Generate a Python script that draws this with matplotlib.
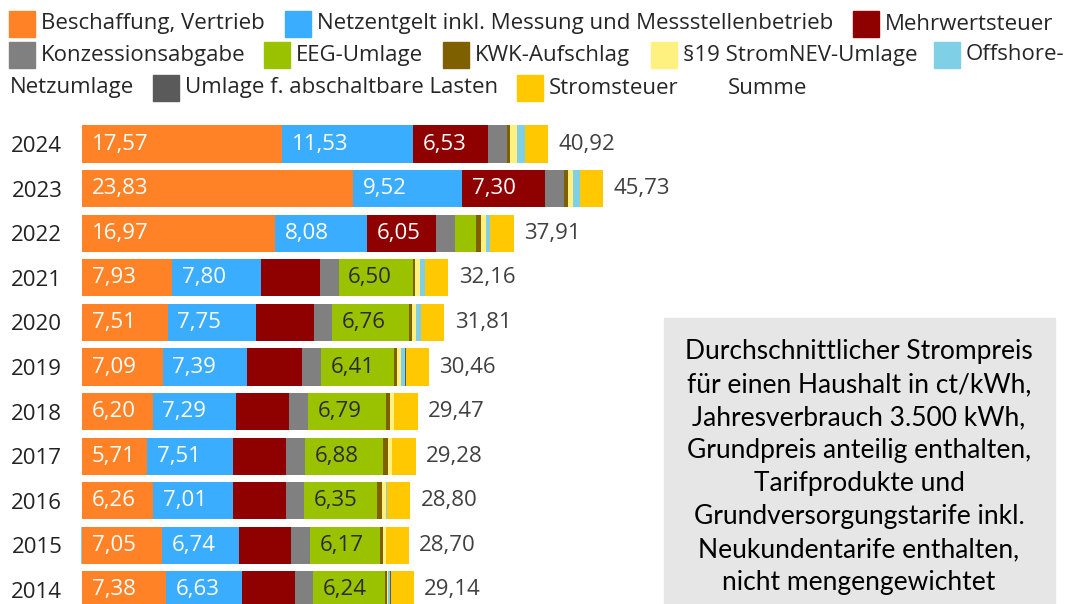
import numpy as np
import matplotlib.pyplot as plt
from matplotlib.patches import Rectangle

plt.rcParams['font.family'] = ['Open Sans', 'DejaVu Sans']

jahre = ['2024', '2023', '2022', '2021', '2020', '2019', '2018', '2017', '2016', '2015', '2014']
beschaffung = [17.57, 23.83, 16.97, 7.93, 7.51, 7.09, 6.20, 5.71, 6.26, 7.05, 7.38]
netzentgelt = [11.53, 9.52, 8.08, 7.80, 7.75, 7.39, 7.29, 7.51, 7.01, 6.74, 6.63]
mwst = [6.53, 7.30, 6.05, 5.13, 5.08, 4.86, 4.71, 4.67, 4.60, 4.58, 4.65]
konzession = [1.66, 1.66, 1.65, 1.66, 1.64, 1.64, 1.66, 1.65, 1.66, 1.66, 1.66]
eeg = [0.00, 0.00, 1.86, 6.50, 6.76, 6.41, 6.79, 6.88, 6.35, 6.17, 6.24]
kwk = [0.28, 0.36, 0.38, 0.25, 0.23, 0.28, 0.35, 0.44, 0.45, 0.25, 0.18]
stromnev = [0.64, 0.42, 0.44, 0.43, 0.36, 0.31, 0.37, 0.39, 0.38, 0.24, 0.09]
offshore = [0.66, 0.59, 0.42, 0.40, 0.42, 0.42, 0.04, -0.03, 0.04, -0.05, 0.25]
abschaltbar = [0.00, 0.00, 0.00, 0.01, 0.01, 0.01, 0.01, 0.01, 0.00, 0.01, 0.01]
stromsteuer = [2.05] * 11
summe = [40.92, 45.73, 37.91, 32.16, 31.81, 30.46, 29.47, 29.28, 28.80, 28.70, 29.14]

serien = [
    ('Beschaffung, Vertrieb', beschaffung, '#ff8226', 'white'),
    ('Netzentgelt inkl. Messung und Messstellenbetrieb', netzentgelt, '#3aadff', 'white'),
    ('Mehrwertsteuer', mwst, '#8f0000', 'white'),
    ('Konzessionsabgabe', konzession, '#808080', None),
    ('EEG-Umlage', eeg, '#9bc200', '#2b2b2b'),
    ('KWK-Aufschlag', kwk, '#7f6000', None),
    ('§19 StromNEV-Umlage', stromnev, '#fff17f', None),
    ('Offshore-Netzumlage', offshore, '#7fcfe7', None),
    ('Umlage f. abschaltbare Lasten', abschaltbar, '#5a5a5a', None),
    ('Stromsteuer', stromsteuer, '#ffc800', None),
]

W, H = 1069, 604
fig = plt.figure(figsize=(W / 100, H / 100), dpi=100)

# axes: bars start at x=82px, 11.39 px per ct
px_per_ct = 11.39
ax = fig.add_axes([72 / W, 0, 1 - 72 / W, (H - 118) / H])
ax.set_xlim(-10 / px_per_ct, (W - 82) / px_per_ct)
ax.set_ylim((H - 144) / 44.6, -(144 - 118) / 44.6)

y = np.arange(len(jahre))
pos = np.zeros(len(jahre))
neg = np.zeros(len(jahre))
for name, werte, farbe, txtfarbe in serien:
    werte = np.array(werte)
    left = np.where(werte >= 0, pos, neg)
    ax.barh(y, werte, left=left, height=0.83, color=farbe, linewidth=0)
    if txtfarbe:
        for yi, l, v in zip(y, left, werte):
            if v > 5.5:
                ax.annotate(f'{v:.2f}'.replace('.', ','), (l, yi), xytext=(7, 0),
                            textcoords='offset points', va='center', ha='left',
                            color=txtfarbe, fontsize=16)
    pos = pos + np.clip(werte, 0, None)
    neg = neg + np.clip(werte, None, 0)

for yi, s in zip(y, summe):
    ax.annotate(f'{s:.2f}'.replace('.', ','), (s, yi), xytext=(7.5, 0),
                textcoords='offset points', va='center', ha='left',
                color='#404040', fontsize=16)

ax.set_yticks(y)
ax.set_yticklabels(jahre, fontsize=16, color='#222222')
ax.tick_params(axis='y', length=0, pad=7)
ax.set_xticks([])
for sp in ax.spines.values():
    sp.set_visible(False)

# legend, laid out like the original (wrapped text flow)
legende = [
    (9, 24, '#ff8226', 'Beschaffung, Vertrieb'),
    (285, 24, '#3aadff', 'Netzentgelt inkl. Messung und Messstellenbetrieb'),
    (853, 24, '#8f0000', 'Mehrwertsteuer'),
    (9, 55, '#808080', 'Konzessionsabgabe'),
    (264, 55, '#9bc200', 'EEG-Umlage'),
    (443, 55, '#7f6000', 'KWK-Aufschlag'),
    (651, 55, '#fff17f', '§19 StromNEV-Umlage'),
    (934, 55, '#7fcfe7', 'Offshore-'),
    (153, 88, '#5a5a5a', 'Umlage f. abschaltbare Lasten'),
    (517, 88, '#ffc800', 'Stromsteuer'),
    (696, 88, 'white', 'Summe'),
]
for lx, ly, farbe, text in legende:
    fig.patches.append(Rectangle((lx / W, 1 - (ly + 13) / H), 26 / W, 26 / H,
                                 transform=fig.transFigure, color=farbe, zorder=3))
    fig.text((lx + 32) / W, 1 - ly / H, text, va='center', ha='left',
             fontsize=16, color='#262626')
fig.text(10 / W, 1 - 88 / H, 'Netzumlage', va='center', ha='left',
         fontsize=16, color='#262626')

# info box
fig.patches.append(Rectangle((664 / W, 0), (1055 - 664) / W, (H - 318) / H,
                             transform=fig.transFigure, color='#e6e6e6', zorder=1))
infotext = ('Durchschnittlicher Strompreis\n'
            'für einen Haushalt in ct/kWh,\n'
            'Jahresverbrauch 3.500 kWh,\n'
            'Grundpreis anteilig enthalten,\n'
            'Tarifprodukte und\n'
            'Grundversorgungstarife inkl.\n'
            'Neukundentarife enthalten,\n'
            'nicht mengengewichtet')
fig.text(859 / W, 1 - 467 / H, infotext, ha='center', va='center', fontsize=19,
         family=['Lato', 'DejaVu Sans'], color='black', linespacing=1.40, zorder=4)

fig.savefig('out.png', dpi=100)
